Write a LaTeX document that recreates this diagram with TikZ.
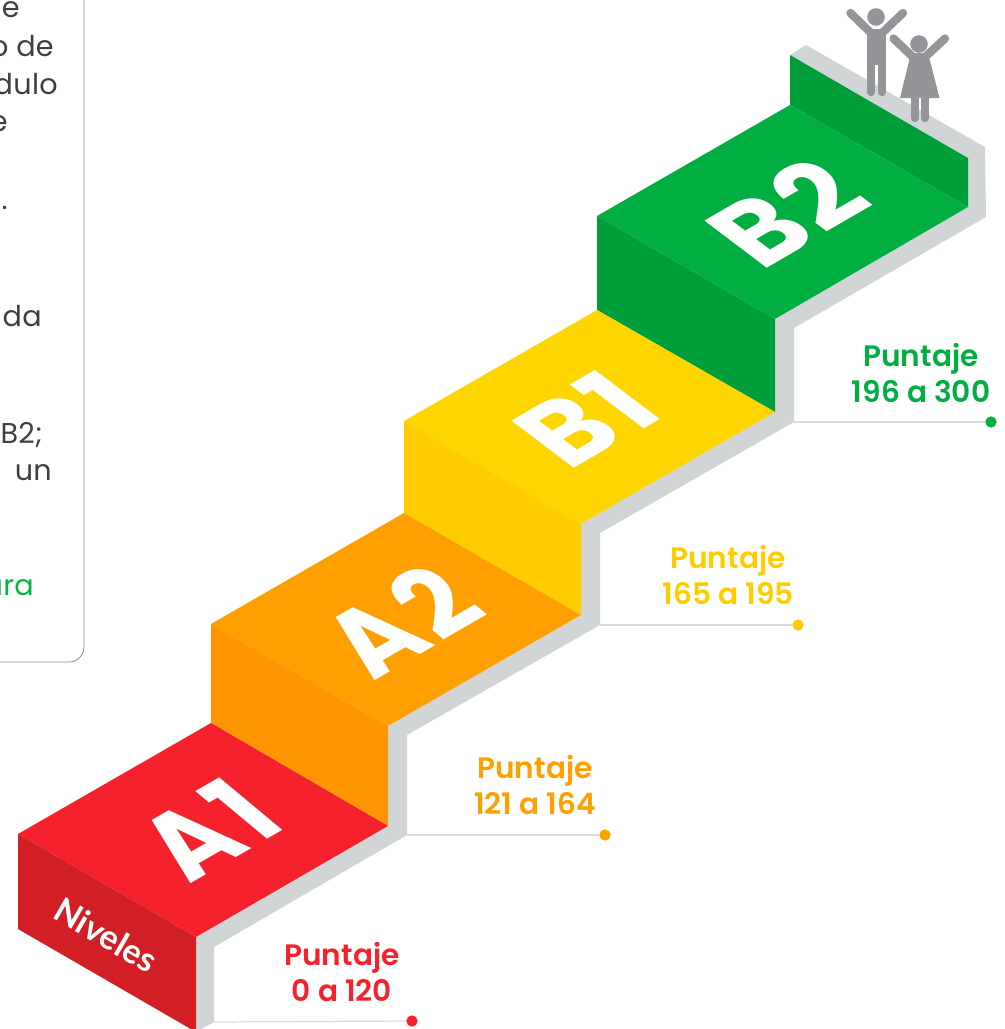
\documentclass[tikz,border=0pt]{standalone}
\usepackage{fontspec}
\setmainfont{Poppins}[BoldFont={Poppins SemiBold}]
\newfontfamily\nivfont{Lato}
\newfontfamily\bigfont{Poppins}[BoldFont={Poppins Bold},LetterSpace=4]
\definecolor{gris}{HTML}{D1D5D6}
\definecolor{linea}{HTML}{D9DADB}
\definecolor{rojo}{HTML}{F5212D}
\definecolor{rojoF}{HTML}{D21F26}
\definecolor{naranja}{HTML}{FF9F00}
\definecolor{naranjaF}{HTML}{FF9500}
\definecolor{amarillo}{HTML}{FFD500}
\definecolor{amarilloF}{HTML}{FFCC00}
\definecolor{verde}{HTML}{00AE42}
\definecolor{verdeF}{HTML}{009E3B}
\definecolor{persona}{HTML}{939598}
\tikzset{
  x=0.75pt,y=-0.75pt,
  grisp/.style={fill=gris},
  bigletter/.style={text=white,font=\fontsize{90}{90}\selectfont\bigfont\bfseries,inner sep=0,transform shape},
  puntaje/.style={font=\fontsize{22.2}{27}\selectfont\bfseries,align=center,inner sep=0},
  panel/.style={font=\fontsize{21.5}{21}\selectfont\addfontfeature{LetterSpace=1},anchor=base east,inner sep=0,text=black!75},
  leader/.style={draw=linea,line width=0.9pt},
  dot/.style={circle,inner sep=0,minimum size=8.5pt},
  limb/.style={draw=persona,line width=6.2pt,line cap=round}
}
\begin{document}
\begin{tikzpicture}
\useasboundingbox (0,0) rectangle (1004,1029);
\clip (0,0) rectangle (1004,1029);
% panel
\draw[draw=black!45,line width=0.6pt] (-20,-10) -- (84,-10) -- (84,647) arc[start angle=0,end angle=90,radius=15] -- (-20,662);
\node[panel] (p1) at (20,17) {e};
\node[panel] (p2) at (54,56) {o de};
\node[panel] (p3) at (58,94) {dulo};
\node[panel] (p4) at (8,131) {e};
\node[panel] (p5) at (8,209) {.};
\node[panel] (p6) at (42,326) {da};
\node[panel] (p7) at (43,443) {B2;};
\node[panel] (p8) at (52,480) {un};
\node[panel,text=verde!90!green] (p9) at (34,595) {ara};
% grey strip
\fill[grisp] (790,55) -- (806,45) -- (985,147) -- (986,217) -- (794,328) -- (794,422)
  -- (600,533) -- (600,625) -- (407,735) -- (407,835) -- (214,947) -- (214,1022) -- (196,1032)
  -- (196,937) -- (388,826) -- (388,726) -- (581,615) -- (581,524) -- (775,412) -- (775,319) -- (968,207) -- (968,158) -- cycle;
% back wall
\fill[verdeF] (790,55) -- (968,158) -- (968,207) -- (790,105) -- cycle;
% steps
\fill[verde] (597,216) -- (790,105) -- (968,207) -- (775,319) -- cycle;
\fill[verdeF] (597,216) -- (775,319) -- (775,412) -- (597,310) -- cycle;
\fill[amarillo] (404,421) -- (597,310) -- (775,412) -- (581,524) -- cycle;
\fill[amarilloF] (404,421) -- (581,524) -- (581,615) -- (404,513) -- cycle;
\fill[naranja] (211,624) -- (404,513) -- (581,615) -- (388,726) -- cycle;
\fill[naranjaF] (211,624) -- (388,726) -- (388,826) -- (211,723) -- cycle;
\fill[rojo] (18,834) -- (211,723) -- (388,826) -- (196,937) -- cycle;
\fill[rojoF] (18,834) -- (196,937) -- (196,1032) -- (18,929) -- cycle;
% big labels
\node[bigletter,cm={.72,.415,-.72,.60,(208,829)}] (a1) at (0,0) {A1};
\node[bigletter,cm={.72,.415,-.72,.60,(400,621)}] (a2) at (0,0) {A2};
\node[bigletter,cm={.76,.44,-.74,.56,(585,419)}] (b1) at (0,0) {B1};
\node[bigletter,cm={.76,.44,-.74,.56,(786,213)}] (b2) at (0,0) {B2};
\node[text=white,inner sep=0,font=\fontsize{25.5}{25}\selectfont\nivfont\bfseries,rotate=-30] (niv) at (106,935) {Niveles};
% scores
\node[puntaje,text=rojo] (t1) at (342,972) {Puntaje\\0 a 120};
\node[puntaje,text=naranja] (t2) at (535,785) {Puntaje\\121 a 164};
\node[puntaje,text=amarilloF] (t3) at (728,575) {Puntaje\\165 a 195};
\node[puntaje,text=verde] (t4) at (921,373) {Puntaje\\196 a 300};
% leaders
\coordinate (l1) at (214,1022); \coordinate (l2) at (407,835);
\coordinate (l3) at (600,625); \coordinate (l4) at (794,422);
\node[dot,fill=rojo] (d1) at (412,1021) {};
\node[dot,fill=naranja] (d2) at (605,835) {};
\node[dot,fill=amarilloF] (d3) at (798,625) {};
\node[dot,fill=verde] (d4) at (991,422) {};
\draw[leader] (l1) -- (d1); \draw[leader] (l2) -- (d2);
\draw[leader] (l3) -- (d3); \draw[leader] (l4) -- (d4);
% man
\fill[persona] (876,17) circle[radius=8.8];
\fill[persona] (867,29) -- (886,29) -- (886,65) -- (867,65) -- cycle;
\draw[limb] (850.5,13) -- (871,33);
\draw[limb] (903,13) -- (882,33);
\draw[limb] (871,62) -- (871,92);
\draw[limb] (882,62) -- (882,92);
% woman
\fill[persona] (919,44) circle[radius=8.8];
\fill[persona] (911,53) -- (928,53) -- (939.5,98) -- (900,98) -- cycle;
\draw[limb] (893.5,38.5) -- (915,59);
\draw[limb] (945,38.5) -- (923,59);
\draw[limb] (915,95) -- (915,118);
\draw[limb] (925,95) -- (925,118);
\end{tikzpicture}
\end{document}
